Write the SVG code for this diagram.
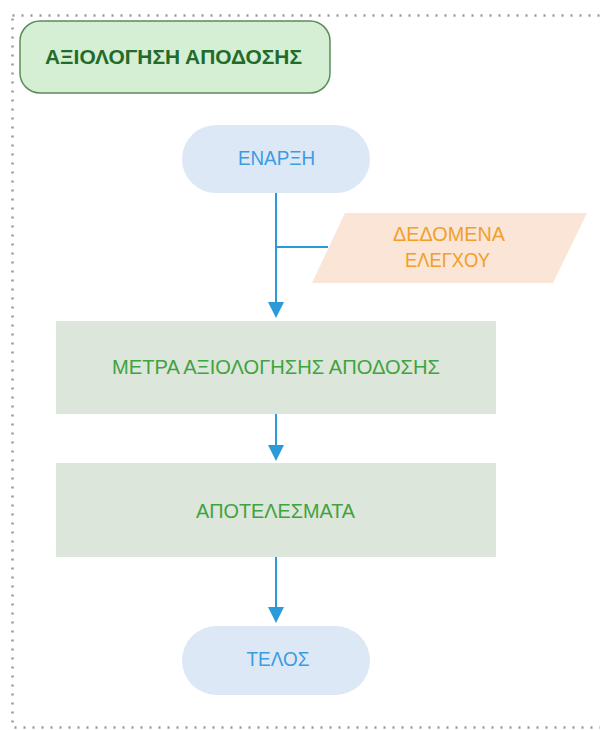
<svg xmlns="http://www.w3.org/2000/svg" width="600" height="730" viewBox="0 0 600 730">
<style>
text{font-family:"Liberation Sans",Arial,sans-serif;font-size:21px;text-anchor:middle;dominant-baseline:central}
.term{fill:#dce8f6}
.term-t{fill:#3d9be0}
.proc{fill:#dce6da}
.proc-t{fill:#3fa33f}
.conn{stroke:#2a9ad8;stroke-width:2;fill:none}
</style>
<defs>
<marker id="arr" markerWidth="8" markerHeight="8" refX="7" refY="4" orient="auto" markerUnits="strokeWidth">
<path d="M0,0 L8,4 L0,8 Z" fill="#2a9ad8"/>
</marker>
</defs>
<rect x="12.5" y="15.5" width="600" height="712" fill="none" stroke="#999" stroke-width="2.5" stroke-dasharray="2,7"/>
<g id="title">
<rect x="20" y="21" width="310" height="72" rx="20" fill="#d5efd5" stroke="#5b8c5b" stroke-width="1.5"/>
<text x="173.5" y="56" textLength="257" lengthAdjust="spacingAndGlyphs" style="font-weight:bold;fill:#236b2a">ΑΞΙΟΛΟΓΗΣΗ ΑΠΟΔΟΣΗΣ</text>
</g>
<g id="connectors">
<line class="conn" x1="276" y1="193" x2="276" y2="316" marker-end="url(#arr)"/>
<line class="conn" x1="276" y1="247" x2="328" y2="247"/>
<line class="conn" x1="276" y1="414" x2="276" y2="459" marker-end="url(#arr)"/>
<line class="conn" x1="276" y1="557" x2="276" y2="621" marker-end="url(#arr)"/>
</g>
<g id="start">
<rect class="term" x="182" y="125" width="188" height="68" rx="34"/>
<text class="term-t" x="276.5" y="157.5" textLength="77" lengthAdjust="spacingAndGlyphs">ΕΝΑΡΞΗ</text>
</g>
<g id="data">
<polygon points="345,213 587,213 553,283 312,283" fill="#fbe5d6"/>
<text x="449" y="233.5" fill="#f0a028" textLength="112" lengthAdjust="spacingAndGlyphs">ΔΕΔΟΜΕΝΑ</text>
<text x="447.5" y="259.5" fill="#f0a028" textLength="85" lengthAdjust="spacingAndGlyphs">ΕΛΕΓΧΟΥ</text>
</g>
<g id="measures">
<rect class="proc" x="56" y="321" width="440" height="93"/>
<text class="proc-t" x="276" y="366" textLength="328" lengthAdjust="spacingAndGlyphs">ΜΕΤΡΑ ΑΞΙΟΛΟΓΗΣΗΣ ΑΠΟΔΟΣΗΣ</text>
</g>
<g id="results">
<rect class="proc" x="56" y="463" width="440" height="94"/>
<text class="proc-t" x="275.5" y="510" textLength="159" lengthAdjust="spacingAndGlyphs">ΑΠΟΤΕΛΕΣΜΑΤΑ</text>
</g>
<g id="end">
<rect class="term" x="182" y="626" width="188" height="69" rx="34.5"/>
<text class="term-t" x="278" y="658.5" textLength="63" lengthAdjust="spacingAndGlyphs">ΤΕΛΟΣ</text>
</g>
</svg>
